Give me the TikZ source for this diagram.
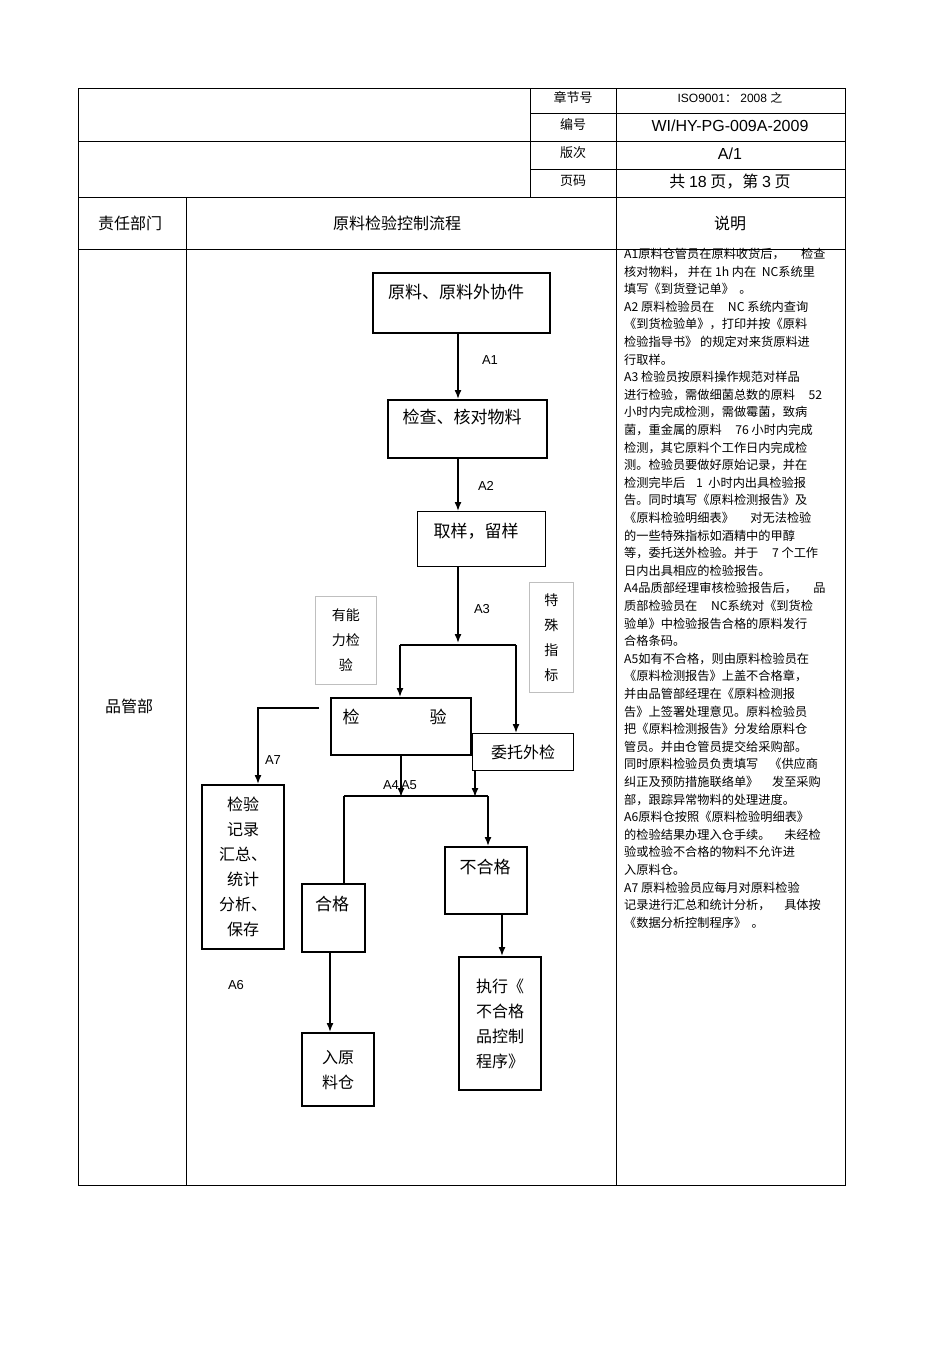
\documentclass[tikz,border=0pt]{standalone}
\usepackage{fontspec}
\setmainfont{Liberation Sans}
\newfontfamily\cjk{Noto Sans CJK SC}
\usetikzlibrary{arrows.meta}
\tikzset{
 box/.style={draw,line width=2.2pt,inner sep=0pt,anchor=north west,font=\cjk\fontsize{16}{25}\selectfont,align=center},
 tbox/.style={draw,line width=1pt,inner sep=0pt,anchor=north west,font=\cjk\fontsize{16}{25}\selectfont,align=center},
 gbox/.style={draw=gray!50,line width=0.5pt,inner sep=0pt,anchor=north west,font=\cjk\fontsize{14}{25}\selectfont,align=center},
 arr/.style={line width=1.5pt,-{Latex[length=9pt,width=7pt]}},
 ln/.style={line width=1.5pt},
 lab/.style={font=\fontsize{13}{13}\selectfont},
 grid/.style={line width=0.9pt},
 cell/.style={font=\cjk\fontsize{13}{13}\selectfont},
}
\begin{document}
\begin{tikzpicture}[x=1pt,y=-1pt]
\useasboundingbox[fill=white] (0,0) rectangle (950,1345);
% table
\draw[grid] (78,88) rectangle (845,1185);
\draw[grid] (530,88) -- (530,197);
\draw[grid] (616,88) -- (616,1185);
\draw[grid] (78,141) -- (845,141);
\draw[grid] (530,113) -- (845,113);
\draw[grid] (530,169) -- (845,169);
\draw[grid] (78,197) -- (845,197);
\draw[grid] (78,249) -- (845,249);
\draw[grid] (186,197) -- (186,1185);
\node[cell] (h1) at (573,97) {章节号};
\node[cell] (h2) at (573,125) {编号};
\node[cell] (h3) at (573,153) {版次};
\node[cell] (h4) at (573,181) {页码};
\node[font=\fontsize{12}{12}\selectfont] (v1) at (730,98) {ISO9001{\cjk ：} 2008 {\cjk 之}};
\node[font=\fontsize{16}{16}\selectfont] (v2) at (730,126) {WI/HY-PG-009A-2009};
\node[font=\fontsize{16}{16}\selectfont] (v3) at (730,154) {A/1};
\node[font=\cjk\fontsize{16}{16}\selectfont] (v4) at (730,182) {共 {\fontspec{Liberation Sans}18} 页，第 {\fontspec{Liberation Sans}3} 页};
\node[font=\cjk\fontsize{16}{16}\selectfont] (c1) at (130,223) {责任部门};
\node[font=\cjk\fontsize{16}{16}\selectfont] (c2) at (397,223) {原料检验控制流程};
\node[font=\cjk\fontsize{16}{16}\selectfont] (c3) at (730,223) {说明};
\node[font=\cjk\fontsize{16}{16}\selectfont] (dept) at (129,706) {品管部};
% description
\node[anchor=north west,inner sep=0pt,align=left,font=\cjk\fontsize{12.2}{17.6}\selectfont] (desc) at (624,248) {%
A1原料仓管员在原料收货后，\ \ \ \ \ \ 检查\\
核对物料，\ 并在 1h 内在\ \ NC系统里\\
填写《到货登记单》\ \ 。\\
A2\ 原料检验员在\ \ \ \ \ NC 系统内查询\\
《到货检验单》，打印并按《原料\\
检验指导书》\ 的规定对来货原料进\\
行取样。\\
A3\ 检验员按原料操作规范对样品\\
进行检验，需做细菌总数的原料\ \ \ \ \ 52\\
小时内完成检测，需做霉菌，致病\\
菌，重金属的原料\ \ \ \ \ 76 小时内完成\\
检测，其它原料个工作日内完成检\\
测。检验员要做好原始记录，并在\\
检测完毕后\ \ \ \ 1\ \ 小时内出具检验报\\
告。同时填写《原料检测报告》及\\
《原料检验明细表》\ \ \ \ \ \ 对无法检验\\
的一些特殊指标如酒精中的甲醇\\
等，委托送外检验。并于\ \ \ \ \ 7 个工作\\
日内出具相应的检验报告。\\
A4品质部经理审核检验报告后，\ \ \ \ \ \ 品\\
质部检验员在\ \ \ \ \ NC系统对《到货检\\
验单》中检验报告合格的原料发行\\
合格条码。\\
A5如有不合格，则由原料检验员在\\
《原料检测报告》上盖不合格章，\\
并由品管部经理在《原料检测报\\
告》上签署处理意见。原料检验员\\
把《原料检测报告》分发给原料仓\\
管员。并由仓管员提交给采购部。\\
同时原料检验员负责填写\ \ \ \ 《供应商\\
纠正及预防措施联络单》\ \ \ \ \ 发至采购\\
部，跟踪异常物料的处理进度。\\
A6原料仓按照《原料检验明细表》\\
的检验结果办理入仓手续。\ \ \ \ \ 未经检\\
验或检验不合格的物料不允许进\\
入原料仓。\\
A7\ 原料检验员应每月对原料检验\\
记录进行汇总和统计分析，\ \ \ \ \ 具体按\\
《数据分析控制程序》\ \ 。};
% flow boxes
\node[box,minimum width=177pt,minimum height=60pt] (b1) at (372,272) {};
\node[font=\cjk\fontsize{17}{17}\selectfont] at (456,292) {原料、原料外协件};
\node[box,minimum width=159pt,minimum height=58pt] (b2) at (387,399) {};
\node[font=\cjk\fontsize{17}{17}\selectfont] at (462,417) {检查、核对物料};
\node[tbox,minimum width=128pt,minimum height=55pt] (b3) at (417,511) {};
\node[font=\cjk\fontsize{17}{17}\selectfont] at (476,531) {取样，留样};
\node[gbox,minimum width=61pt,minimum height=88pt] (g1) at (315,596) {有能\\力检\\验};
\node[gbox,minimum width=44pt,minimum height=110pt] (g2) at (529,582) {特\\殊\\指\\标};
\node[box,minimum width=140pt,minimum height=57pt] (b4) at (330,697) {};
\node[font=\cjk\fontsize{17}{17}\selectfont] at (351,717) {检};
\node[font=\cjk\fontsize{17}{17}\selectfont] at (438,717) {验};
\node[tbox,minimum width=101pt,minimum height=37pt] (b5) at (472,733) {委托外检};
\node[box,minimum width=82pt,minimum height=164pt] (b6) at (201,784) {检验\\记录\\汇总、\\统计\\分析、\\保存};
\node[box,minimum width=63pt,minimum height=68pt] (b7) at (301,883) {};
\node[font=\cjk\fontsize{17}{17}\selectfont] at (332,904) {合格};
\node[box,minimum width=82pt,minimum height=67pt] (b8) at (444,846) {};
\node[font=\cjk\fontsize{17}{17}\selectfont] at (485,867) {不合格};
\node[box,minimum width=72pt,minimum height=73pt] (b9) at (301,1032) {入原\\料仓};
\node[box,minimum width=82pt,minimum height=133pt,align=left] (b10) at (458,956) {执行《\\不合格\\品控制\\程序》};
% connectors
\draw[arr] (b1.south -| 458,0) -- (b2.north -| 458,0);
\draw[arr] (b2.south -| 458,0) -- (b3.north -| 458,0);
\coordinate (s3) at (458,643);
\draw[arr] (b3.south -| 458,0) -- (s3);
\coordinate (jl) at (400,645); \coordinate (jr) at (516,645);
\draw[ln] (jl) -- (jr);
\draw[arr] (jl) -- (b4.north -| jl);
\draw[arr] (jr) -- (b5.north -| jr);
\coordinate (a7s) at (319,708);
\draw[arr] (a7s) -| (b6.north -| 258,0);
\coordinate (m1) at (401,797); \coordinate (m2) at (475,797);
\draw[arr] (401,754) -- (m1);
\draw[arr] (b5.south -| 475,0) -- (m2);
\coordinate (hl) at (344,796); \coordinate (hr) at (488,796);
\draw[ln] (hl) -- (hr);
\draw[ln] (hl) -- (b7.north -| hl);
\draw[arr] (hr) -- (b8.north -| hr);
\draw[arr] (b7.south -| 330,0) -- (b9.north -| 330,0);
\draw[arr] (b8.south -| 502,0) -- (b10.north -| 502,0);
% labels
\node[lab] (l1) at (490,360) {A1};
\node[lab] (l2) at (486,486) {A2};
\node[lab] (l3) at (482,609) {A3};
\node[lab] (l7) at (273,760) {A7};
\node[lab] (l45) at (400,785) {A4\,A5};
\node[lab] (l6) at (236,985) {A6};
\end{tikzpicture}
\end{document}
